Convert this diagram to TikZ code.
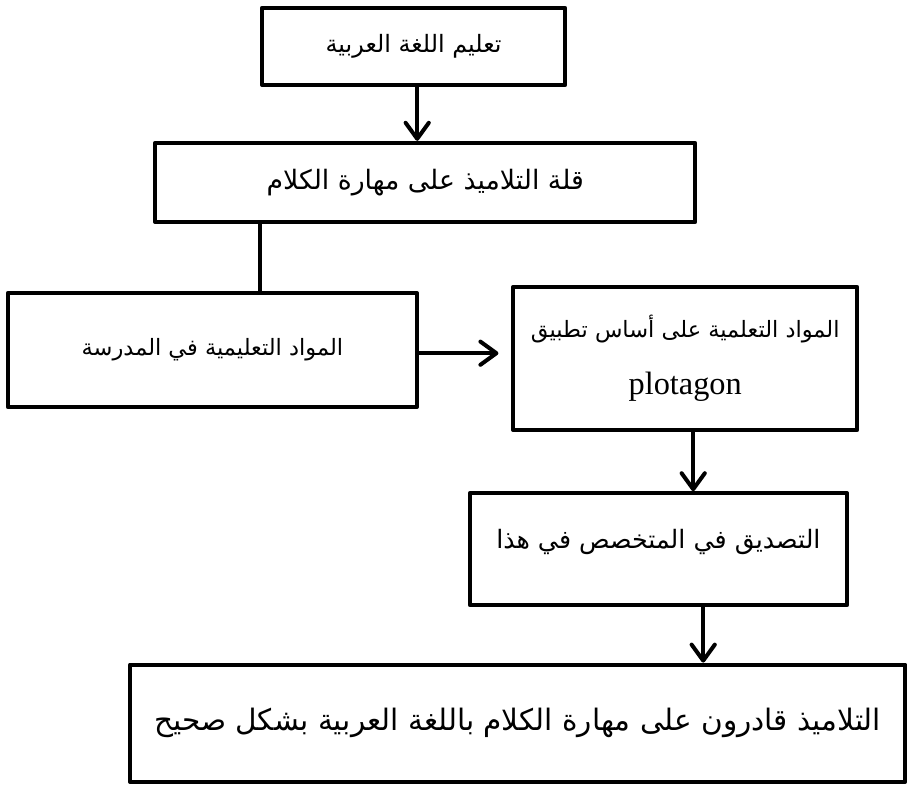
\documentclass[tikz,border=0pt]{standalone}
\usepackage{fontspec}
\setmainfont{Liberation Serif}
\newfontfamily\arabicfont[Script=Arabic]{DejaVu Sans}
\TeXXeTstate=1
\usetikzlibrary{arrows.meta}
\newcommand{\arabtxt}[1]{{\arabicfont\beginR #1\endR}}
\tikzstyle{box} = [rectangle, draw=black, line width=0.1cm, line join=round, text centered, align=center, inner sep=0pt, font=\fontsize{17}{40}\selectfont]
\tikzstyle{link} = [line width=0.1cm]
\tikzstyle{arrow} = [line width=0.1cm, -{Straight Barb[length=0.4cm,width=0.58cm,line width=0.1cm,round]}]

\begin{document}
\begin{tikzpicture}
	\useasboundingbox (0,0) rectangle (22.875,-19.6);
	\node (b1) [box, minimum width=7.58cm, minimum height=1.93cm] at (10.34,-1.16) {\arabtxt{تعليم اللغة العربية}};
	\node (b2) [box, minimum width=13.5cm, minimum height=1.98cm, font=\fontsize{19}{23}\selectfont] at (10.63,-4.56) {\arabtxt{قلة التلاميذ على مهارة الكلام}};
	\node (b3) [box, minimum width=10.23cm, minimum height=2.85cm, font=\fontsize{16}{19}\selectfont] at (5.31,-8.75) {\arabtxt{المواد التعليمية في المدرسة}};
	\node (b4) [box, minimum width=8.6cm, minimum height=3.58cm, font=\fontsize{16}{41}\selectfont] at (17.13,-8.96) {\arabtxt{المواد التعلمية على أساس تطبيق}\\{\fontsize{23}{28}\selectfont plotagon}};
	\node (b5) [box, minimum width=9.43cm, minimum height=2.8cm, font=\fontsize{18}{22}\selectfont] at (16.46,-13.73) {\arabtxt{التصديق في المتخصص في هذا}\\[-0.5cm]\strut};
	\node (b6) [box, minimum width=19.38cm, minimum height=2.93cm, font=\fontsize{21}{25}\selectfont] at (12.94,-18.08) {\arabtxt{التلاميذ قادرون على مهارة الكلام باللغة العربية بشكل صحيح}};
	\draw [arrow] ([xshift=0.09cm]b1.south) -- ([xshift=0.09cm]b1.south |- b2.north);
	\draw [link] ([xshift=2.68cm]b2.south west) coordinate (c1) -- (c1 |- b3.north);
	\draw [arrow] ([yshift=-0.08cm]b3.east) -- ([yshift=-0.08cm,xshift=-0.32cm]b3.east -| b4.west);
	\draw [arrow] ([xshift=0.2cm]b4.south) -- ([xshift=0.2cm]b4.south |- b5.north);
	\draw [arrow] ([xshift=1.12cm]b5.south) -- ([xshift=1.12cm]b5.south |- b6.north);
\end{tikzpicture}
\end{document}
